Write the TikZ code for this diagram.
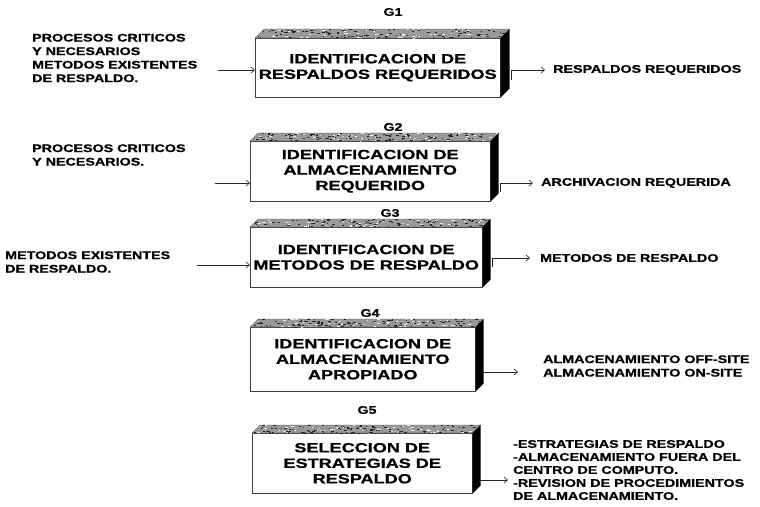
\documentclass[tikz,border=0pt]{standalone}
\usepackage{fontspec}
\setmainfont{Liberation Sans}[BoldFeatures={FakeBold=0.8}]
\usepackage{graphicx}
\usetikzlibrary{calc,arrows.meta}
\newcommand\xs[1]{\scalebox{1.3}[1]{#1}}
\newcommand\xb[1]{\scalebox{1.36}[1]{#1}}
\tikzset{
  front/.style={draw=black!75, line width=0.5pt, fill=white, anchor=north west, inner sep=0pt,
    align=center, font=\fontsize{13.3}{15.5}\selectfont\bfseries},
  side/.style={fill=black},
  top/.style={fill=black!40, draw=black!70, line width=0.3pt},
  lbl/.style={font=\fontsize{11}{13.5}\selectfont\bfseries, align=left, inner sep=0pt},
  glbl/.style={font=\fontsize{11}{13}\selectfont\bfseries, inner sep=0pt},
  arr/.style={draw=black!85, line width=0.6pt, -{Straight Barb[length=3.5pt,width=6pt,line width=0.6pt]}},
}
% #1 name, #2 depth
\newcommand\solid[2]{%
  \fill[top] (#1.north west) -- ++(#2,-#2) -- ($(#1.north east)+(#2,-#2)$) -- (#1.north east) -- cycle;
  \foreach \i in {1,...,160}{%
    \pgfmathsetmacro\uu{rnd}\pgfmathsetmacro\vv{rnd}\pgfmathsetmacro\ll{0.8+2.5*rnd}%
    \pgfmathsetmacro\cc{rnd>0.35 ? 85 : 8}%
    \draw[black!\cc, line width=0.4pt] ($(#1.north west)!\uu!(#1.north east)+\vv*(#2,-#2)$) -- ++(\ll,0);
  }
  \fill[side] (#1.north east) -- ++(#2,-#2) -- ($(#1.south east)+(#2,-#2)$) -- (#1.south east) -- cycle;
}
\begin{document}
\begin{tikzpicture}[x=1pt,y=-1pt]
\pgfmathsetseed{7}
\useasboundingbox (0,0) rectangle (760,506);

% ---------- Row 1
\node[glbl] (g1) at (393,12) {\xs{G1}};
\node[front, minimum width=245pt, minimum height=59pt] (b1) at (255,38)
  {\xb{IDENTIFICACION DE}\\\xb{RESPALDOS REQUERIDOS}};
\solid{b1}{9}
\node[lbl, anchor=west] (l1) at (32,58)
  {\xs{PROCESOS CRITICOS}\\\xs{Y NECESARIOS}\\\xs{METODOS EXISTENTES}\\\xs{DE RESPALDO.}};
\coordinate (i1) at (218,70);
\draw[arr] (i1) -- (b1.west |- i1);
\node[lbl, anchor=west] (r1) at (553,70) {\xs{RESPALDOS REQUERIDOS}};
\coordinate (o1) at (511,80);
\draw[arr] (o1) -- (511,70) -- ($(r1.west)+(-8,0)$);

% ---------- Row 2
\node[glbl] (g2) at (393,127) {\xs{G2}};
\node[front, minimum width=240pt, minimum height=60pt] (b2) at (250,141)
  {\xb{IDENTIFICACION DE}\\\xb{ALMACENAMIENTO}\\\xb{REQUERIDO}};
\solid{b2}{8}
\node[lbl, anchor=west] (l2) at (32,155)
  {\xs{PROCESOS CRITICOS}\\\xs{Y NECESARIOS.}};
\coordinate (i2) at (215,183);
\draw[arr] (i2) -- (b2.west |- i2);
\node[lbl, anchor=west] (r2) at (541,183) {\xs{ARCHIVACION REQUERIDA}};
\coordinate (o2) at (500,192);
\draw[arr] (o2) -- (500,183) -- ($(r2.west)+(-8,0)$);

% ---------- Row 3
\node[glbl] (g3) at (390,213) {\xs{G3}};
\node[front, minimum width=232pt, minimum height=60pt] (b3) at (250,227)
  {\xb{IDENTIFICACION DE}\\\xb{METODOS DE RESPALDO}};
\solid{b3}{8}
\node[lbl, anchor=west] (l3) at (5,262)
  {\xs{METODOS EXISTENTES}\\\xs{DE RESPALDO.}};
\coordinate (i3) at (197,265);
\draw[arr] (i3) -- (b3.west |- i3);
\node[lbl, anchor=west] (r3) at (540,258) {\xs{METODOS DE RESPALDO}};
\coordinate (o3) at (492,267);
\draw[arr] (o3) -- (492,258) -- ($(r3.west)+(-10,0)$);

% ---------- Row 4
\node[glbl] (g4) at (370,313) {\xs{G4}};
\node[front, minimum width=225pt, minimum height=64pt] (b4) at (250,327)
  {\xb{IDENTIFICACION DE}\\\xb{ALMACENAMIENTO}\\\xb{APROPIADO}};
\solid{b4}{8}
\node[lbl, anchor=west] (r4) at (543,366)
  {\xs{ALMACENAMIENTO OFF-SITE}\\\xs{ALMACENAMIENTO ON-SITE}};
\coordinate (o4) at (483,372);
\draw[arr] (o4) -- ($(r4.west |- o4)+(-25,0)$);

% ---------- Row 5
\node[glbl] (g5) at (367,410) {\xs{G5}};
\node[front, minimum width=220pt, minimum height=60pt] (b5) at (252,433)
  {\xb{SELECCION DE}\\\xb{ESTRATEGIAS DE}\\\xb{RESPALDO}};
\solid{b5}{8}
\node[lbl, anchor=west, font=\fontsize{11}{13}\selectfont\bfseries] (r5) at (513,470)
  {\xs{-ESTRATEGIAS DE RESPALDO}\\\xs{-ALMACENAMIENTO FUERA DEL}\\\xs{CENTRO DE COMPUTO.}\\\xs{-REVISION DE PROCEDIMIENTOS}\\\xs{DE ALMACENAMIENTO.}};
\coordinate (o5) at (480,480);
\draw[arr] (o5) -- ($(r5.west |- o5)+(-5,0)$);
\end{tikzpicture}
\end{document}
